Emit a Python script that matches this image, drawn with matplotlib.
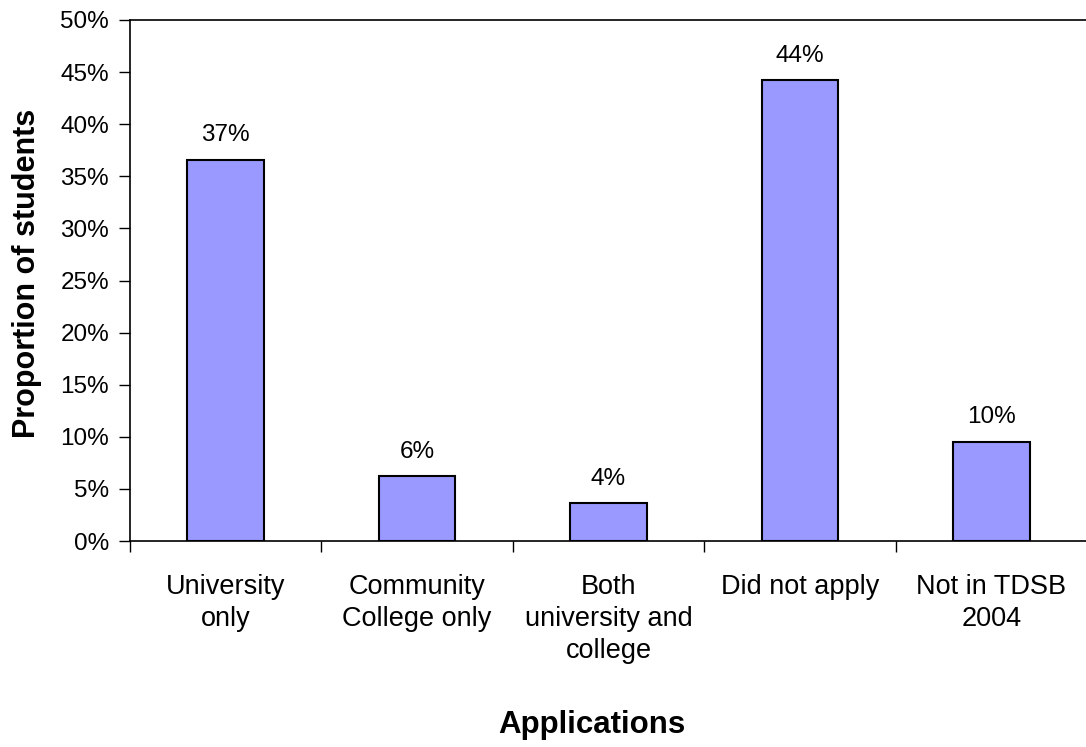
import matplotlib
matplotlib.use("Agg")
import matplotlib.pyplot as plt
from matplotlib.ticker import FuncFormatter, FixedLocator

plt.rcParams['font.family'] = ['Liberation Sans', 'DejaVu Sans']

categories = ["University\nonly", "Community\nCollege only", "Both\nuniversity and\ncollege",
              "Did not apply", "Not in TDSB\n2004"]
shares = [36.6, 6.2, 3.6, 44.2, 9.5]
y_ticks = [0, 5, 10, 15, 20, 25, 30, 35, 40, 45, 50]

W, H = 1086, 747
fig = plt.figure(figsize=(W / 100, H / 100), dpi=100)
left_px, right_px, top_px, base_px = 130, 1087, 20, 541
ax = fig.add_axes([left_px / W, 1 - base_px / H, (right_px - left_px) / W, (base_px - top_px) / H])

x = [i + 0.5 for i in range(len(categories))]
ax.bar(x, shares, width=0.4, color="#9999FF", edgecolor="black", linewidth=1.5, zorder=2)

for xi, v in zip(x, shares):
    ax.annotate(f"{v:.0f}%", (xi, v), xytext=(0, 10), textcoords="offset points",
                ha="center", va="bottom", fontsize=17.5)

ax.set_xlim(0, len(categories))
ax.set_ylim(0, 50)
ax.yaxis.set_major_locator(FixedLocator(y_ticks))
ax.yaxis.set_major_formatter(FuncFormatter(lambda v, p: f"{v:.0f}%"))

ax.set_xticks(range(len(categories) + 1))
ax.set_xticklabels([])
ax.set_xticks(x, minor=True)
ax.set_xticklabels(categories, minor=True, fontsize=19.5, linespacing=1.3)
ax.tick_params(axis="x", which="minor", length=0, pad=24)
ax.tick_params(axis="x", which="major", length=8, width=1, direction="out")
ax.tick_params(axis="y", length=8, width=1, direction="out", labelsize=17.5, pad=7)

for side in ("left", "top", "bottom"):
    ax.spines[side].set_linewidth(1.2)
    ax.spines[side].set_color("black")
ax.spines["right"].set_visible(False)

span_x = right_px - left_px
span_y = base_px - top_px
ax.set_xlabel("Applications", fontsize=22.5, fontweight="bold")
ax.xaxis.set_label_coords((592 - left_px) / span_x, (base_px - 710) / span_y)
ax.set_ylabel("Proportion of students", fontsize=22, fontweight="bold")
ax.yaxis.set_label_coords((42 - left_px) / span_x, (base_px - 273) / span_y)

fig.savefig("out.png", dpi=100)
